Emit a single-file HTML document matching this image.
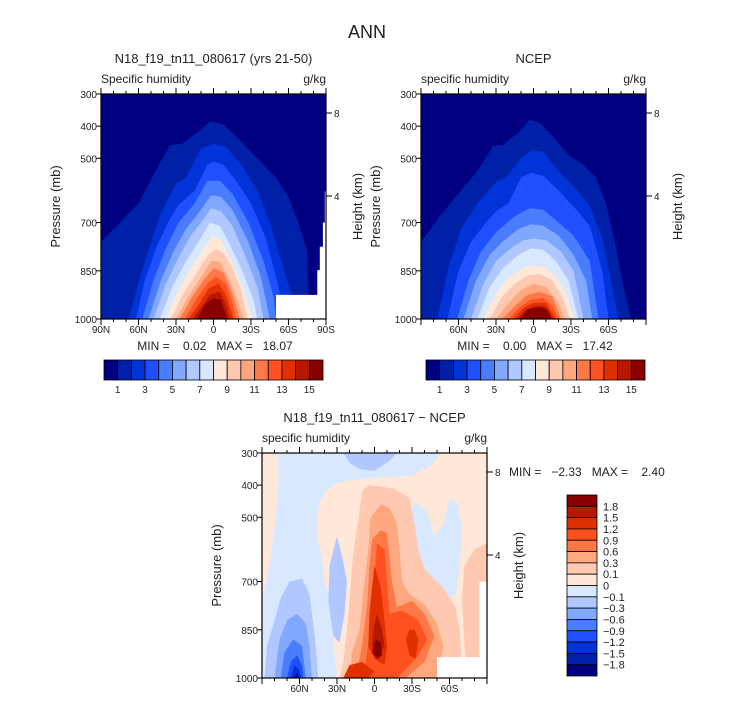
<!DOCTYPE html>
<html><head><meta charset="utf-8">
<style>
body{margin:0;background:#fff;}
svg{display:block;font-family:"Liberation Sans",sans-serif;}
text{fill:#222;white-space:pre;}
</style></head>
<body>
<svg id="fig" width="733" height="702" viewBox="0 0 733 702" xmlns="http://www.w3.org/2000/svg">
<text x="367" y="38" font-size="18" text-anchor="middle">ANN</text>
<g id="p1"></g>
<g id="p2"></g>
<g id="p3"></g>
<g id="cb1"></g>
<g id="cb2"></g>
<g id="cb3"></g>
</svg>
<script>
const palette = ["#000080","#0020a8","#0034d8","#1e50ff","#4a7cff","#80a8ff","#b0c8ff","#d8e8ff","#ffe8d8","#ffc8b0","#ffa880","#ff7848","#ff5020","#e03000","#b81800","#880000"];
const pressureTicks = [300,400,500,700,850,1000];
const heightTicks = [["8",113],["4",196]];
const latTicks1 = ["90N","60N","30N","0","30S","60S","90S"];
const latVals1 = [90,60,30,0,-30,-60,-90];
const latTicks2 = ["60N","30N","0","30S","60S"];
const latVals2 = [60,30,0,-30,-60];
const cbLabels = ["1","3","5","7","9","11","13","15"];
const diffLabels = ["1.8","1.5","1.2","0.9","0.6","0.3","0.1","0","\u22120.1","\u22120.3","\u22120.6","\u22120.9","\u22121.2","\u22121.5","\u22121.8"];

const modelLevels = [
[[90,760],[75,700],[60,640],[45,530],[35,460],[25,455],[10,410],[3,385],[-8,395],[-20,440],[-35,500],[-50,560],[-60,620],[-68,700],[-75,790],[-76,920],[-78,1000]],
[[68,1000],[58,860],[50,760],[42,670],[30,580],[22,560],[10,470],[0,455],[-10,465],[-22,520],[-35,600],[-45,700],[-55,830],[-62,920],[-66,1000]],
[[62,1000],[55,880],[45,770],[35,690],[28,645],[15,600],[5,520],[0,510],[-8,520],[-18,570],[-30,640],[-42,750],[-52,900],[-56,1000]],
[[57,1000],[48,880],[38,780],[28,700],[15,640],[5,570],[-5,570],[-15,610],[-28,700],[-40,820],[-48,930],[-50,1000]],
[[52,1000],[42,880],[32,790],[22,720],[10,660],[2,615],[-6,620],[-15,660],[-28,760],[-38,870],[-45,1000]],
[[48,1000],[38,890],[28,810],[18,740],[8,690],[2,655],[-6,665],[-15,710],[-25,800],[-35,900],[-40,1000]],
[[43,1000],[33,900],[22,820],[12,760],[3,700],[-5,710],[-12,760],[-22,840],[-32,940],[-35,1000]],
[[38,1000],[28,910],[18,840],[8,780],[1,742],[-6,755],[-12,800],[-20,870],[-28,960],[-31,1000]],
[[34,1000],[24,920],[14,860],[5,805],[-2,782],[-8,795],[-15,840],[-22,910],[-27,1000]],
[[30,1000],[20,930],[10,870],[2,820],[-5,822],[-12,870],[-20,950],[-24,1000]],
[[27,1000],[17,930],[8,880],[0,842],[-8,855],[-15,920],[-21,1000]],
[[23,1000],[14,940],[5,890],[-2,868],[-10,890],[-15,950],[-18,1000]],
[[20,1000],[11,950],[4,905],[-4,890],[-10,925],[-16,1000]],
[[17,1000],[9,960],[3,925],[-5,915],[-10,955],[-13,1000]],
[[13,1000],[7,955],[0,935],[-6,940],[-11,1000]]
];
const modelMissing = [[-50,1000],[-50,925],[-83,925],[-83,848],[-85,848],[-85,775],[-87.5,775],[-87.5,700],[-89,700],[-89,603],[-90,603],[-90,1000]];

const ncepLevels = [
[[90,760],[75,680],[60,610],[45,540],[32,460],[25,460],[12,420],[3,380],[-5,390],[-15,430],[-28,490],[-40,520],[-50,560],[-58,640],[-65,760],[-72,900],[-78,1000]],
[[77,1000],[68,840],[58,720],[45,640],[30,575],[22,560],[10,500],[2,475],[-8,480],[-20,540],[-35,600],[-45,650],[-55,750],[-62,880],[-68,1000]],
[[69,1000],[60,850],[50,760],[38,700],[30,665],[20,640],[10,560],[2,545],[-8,555],[-20,600],[-32,650],[-45,710],[-55,850],[-60,1000]],
[[61,1000],[52,880],[42,790],[30,730],[15,680],[3,655],[-8,660],[-20,700],[-32,740],[-45,820],[-52,1000]],
[[56,1000],[46,880],[35,800],[25,760],[12,720],[2,705],[-8,710],[-20,740],[-32,800],[-42,880],[-47,1000]],
[[50,1000],[40,890],[30,820],[18,780],[8,755],[0,750],[-10,755],[-22,790],[-32,850],[-40,1000]],
[[45,1000],[35,900],[24,840],[12,800],[2,780],[-8,785],[-18,820],[-28,880],[-36,1000]],
[[40,1000],[30,920],[20,870],[8,840],[0,833],[-10,840],[-18,870],[-26,920],[-33,1000]],
[[35,1000],[25,930],[15,890],[5,865],[-5,860],[-15,880],[-24,940],[-29,1000]],
[[30,1000],[20,950],[10,910],[0,890],[-10,900],[-20,950],[-25,1000]],
[[25,1000],[15,960],[5,925],[-5,915],[-15,930],[-22,1000]],
[[20,1000],[10,960],[2,940],[-8,935],[-15,960],[-20,1000]],
[[16,1000],[8,965],[0,950],[-10,950],[-18,1000]],
[[13,1000],[6,970],[-2,960],[-10,962],[-16,1000]],
[[10,1000],[5,970],[-5,962],[-12,975],[-14,1000]]
];

const diffColorIdx = [7, 6, 6, 6, 7, 5, 4, 3, 2, 0, 9, 9, 10, 11, 12, 13, 13, 13, 14, 15];
const diffShapes = [
[[77,300],[-53,300],[-45,340],[-30,370],[-10,375],[5,380],[20,385],[30,395],[40,420],[45,470],[46,560],[42,620],[40,700],[35,760],[33,900],[30,1000],[90,1000],[90,760],[84,650],[79,500],[77,400]],
[[25,300],[-18,300],[-10,330],[0,355],[12,350],[20,330]],
[[30,560],[26,620],[22,700],[24,800],[28,890],[33,870],[37,760],[36,650]],
[[88,1000],[86,900],[80,820],[75,750],[68,700],[58,690],[52,740],[50,800],[47,900],[45,1000]],
[[-32,450],[-28,500],[-30,600],[-40,700],[-55,760],[-65,740],[-68,650],[-70,520],[-66,450],[-60,440],[-55,520],[-48,560],[-42,480]],
[[80,1000],[76,880],[70,820],[62,800],[55,830],[52,900],[50,1000]],
[[75,1000],[72,920],[65,880],[58,900],[55,1000]],
[[70,1000],[67,950],[62,930],[58,960],[57,1000]],
[[67,1000],[64,960],[60,975],[59,1000]],
[[64,1000],[62,982],[60,1000]],
[[5,400],[-15,410],[-28,440],[-32,520],[-35,600],[-40,660],[-55,720],[-65,780],[-68,850],[-70,950],[-62,1000],[28,1000],[25,950],[22,850],[20,760],[18,650],[15,560],[12,480],[10,420]],
[[-90,580],[-80,600],[-72,650],[-70,750],[-72,900],[-75,1000],[-90,1000]],
[[-5,460],[-12,470],[-18,520],[-20,600],[-22,700],[-28,740],[-40,770],[-50,830],[-55,900],[-50,1000],[20,1000],[18,920],[12,850],[8,700],[5,600],[3,500]],
[[-5,540],[-10,550],[-12,620],[-14,700],[-18,780],[-30,760],[-40,800],[-48,870],[-40,950],[-25,1000],[15,1000],[10,900],[6,780],[4,650],[2,570]],
[[-2,580],[-8,600],[-10,700],[-12,800],[-22,790],[-35,820],[-42,880],[-35,930],[-28,960],[-18,1000],[10,1000],[6,930],[3,820],[0,700]],
[[0,650],[-5,720],[-8,820],[-10,900],[-8,960],[0,940],[5,900],[4,800],[2,720]],
[[-28,850],[-25,880],[-28,930],[-33,940],[-35,880],[-32,850]],
[[25,1000],[20,960],[10,950],[0,980],[5,1000]],
[[-2,800],[-6,850],[-8,900],[-4,930],[2,900],[1,850]],
[[-1,880],[-5,890],[-6,930],[-2,940],[2,920]]
];
const diffMissing = [[-50,1000],[-50,935],[-84,935],[-84,700],[-90,700],[-90,1000]];

const NS = "http://www.w3.org/2000/svg";
function mk(tag, attrs, parent){const e=document.createElementNS(NS,tag);for(const k in attrs)e.setAttribute(k,attrs[k]);parent.appendChild(e);return e;}

function panel(g, x0, y0, opts){
  const W=225,H=225;
  const sx = lat => x0 + (90-lat)*W/180;
  const sy = p => y0 + (p-300)*H/700;
  const clip = mk('clipPath',{id:'clip'+g.id},g);
  mk('rect',{x:x0,y:y0,width:W,height:H},clip);
  const plot = mk('g',{'clip-path':'url(#clip'+g.id+')'},g);
  
  
  const bg = mk('rect',{x:x0,y:y0,width:W,height:H,fill:palette[opts.bgIdx]},plot);
  
  
  const poly = (pts, fill, close)=>{
    let d = pts.map((q,i)=>(i?'L':'M')+sx(q[0]).toFixed(1)+','+sy(q[1]).toFixed(1)).join(' ');
    if(close) d += ' L'+sx(pts[pts.length-1][0]).toFixed(1)+','+(y0+H)+' L'+sx(pts[0][0]).toFixed(1)+','+(y0+H);
    return mk('path',{d:d+' Z',fill:fill},plot);
  };
  opts.shapes.forEach((pts,i)=>{
    const el = poly(pts, palette[opts.colorIdx[i]], opts.closeBottom);
    
    
  });
  if(opts.missing){
    const m = poly(opts.missing,'#fff',false);
    
    
  }
  const fr = mk('rect',{x:x0,y:y0,width:W,height:H,fill:'none',stroke:'#000','stroke-width':1.2},g);
  
  
  for(let lat=-90;lat<=90;lat+=10){
    const major = lat%30===0; const x=sx(lat);
    mk('line',{x1:x,y1:y0,x2:x,y2:y0-(major?6:3),stroke:'#000'},g);
    mk('line',{x1:x,y1:y0+H,x2:x,y2:y0+H+(major?6:3),stroke:'#000'},g);
  }
  pressureTicks.forEach(p=>{
    const y=sy(p);
    mk('line',{x1:x0,y1:y,x2:x0-5,y2:y,stroke:'#000'},g);
    const t = mk('text',{x:x0-4,y:y+4,'font-size':10,'text-anchor':'end'},g);
    t.textContent=p;
    
    
  });
  heightTicks.forEach(h=>{
    const y=y0+(h[1]-94);
    mk('line',{x1:x0+W,y1:y,x2:x0+W+6,y2:y,stroke:'#000'},g);
    const t = mk('text',{x:x0+W+8,y:y+4,'font-size':10},g);
    t.textContent=h[0];
    
    
  });
  opts.latLabels.forEach((l,i)=>{
    const t = mk('text',{x:sx(opts.latVals[i]),y:y0+H+14,'font-size':10,'text-anchor':'middle'},g);
    t.textContent=l;
    
    
  });
  const ttl = mk('text',{x:x0+W/2,y:y0-31,'font-size':13,'text-anchor':'middle'},g);
  ttl.textContent=opts.title;
  
  
  const lt = mk('text',{x:x0,y:y0-11,'font-size':12},g);
  lt.textContent=opts.left;
  
  
  const rt = mk('text',{x:x0+W,y:y0-11,'font-size':12,'text-anchor':'end'},g);
  rt.textContent='g/kg';
  
  
  const yl = mk('text',{transform:`translate(${x0-41},${y0+H/2}) rotate(-90)`,'font-size':13,'text-anchor':'middle'},g);
  yl.textContent='Pressure (mb)';
  
  
  const yr = mk('text',{transform:`translate(${x0+W+36},${y0+H/2}) rotate(-90)`,'font-size':13,'text-anchor':'middle'},g);
  yr.textContent='Height (km)';
  
  
  if(opts.minmax){
    const mm = mk('text',{x:opts.minmax[0],y:opts.minmax[1],'font-size':12,'text-anchor':opts.minmax[3]||'middle'},g);
    mm.textContent=opts.minmax[2];
    
    
  }
}

const idx15 = [1,2,3,4,5,6,7,8,9,10,11,12,13,14,15];
panel(document.getElementById('p1'),101,94,{bgIdx:0,shapes:modelLevels,colorIdx:idx15,closeBottom:true,missing:modelMissing,
  latLabels:latTicks1,latVals:latVals1,title:'N18_f19_tn11_080617 (yrs 21-50)',left:'Specific humidity',minmax:[215,350,'MIN =    0.02   MAX =   18.07']});
panel(document.getElementById('p2'),421,94,{bgIdx:0,shapes:ncepLevels,colorIdx:idx15,closeBottom:true,
  latLabels:latTicks2,latVals:latVals2,title:'NCEP',left:'specific humidity',minmax:[535,350,'MIN =    0.00   MAX =   17.42']});
panel(document.getElementById('p3'),262,453,{bgIdx:8,shapes:diffShapes,colorIdx:diffColorIdx,closeBottom:false,missing:diffMissing,
  latLabels:latTicks2,latVals:latVals2,title:'N18_f19_tn11_080617 \u2212 NCEP',left:'specific humidity',minmax:[509,476,'MIN =   \u22122.33   MAX =    2.40','start']});
function hbar(g,x0,y0){
  const w=(323-104)/16;
  palette.forEach((c,i)=>{
    const r=mk('rect',{x:x0+i*w,y:y0,width:w,height:20,fill:c,stroke:'#000','stroke-width':0.8},g);
    
    
  });
  cbLabels.forEach((l,i)=>{
    const t=mk('text',{x:x0+(1+2*i)*w,y:y0+33,'font-size':10,'text-anchor':'middle'},g);
    t.textContent=l;
    
    
  });
}
hbar(document.getElementById('cb1'),104,360);
hbar(document.getElementById('cb2'),426,360);
(function(){
  const g=document.getElementById('cb3');
  const h=(676-495)/16;
  for(let i=0;i<16;i++){
    const r=mk('rect',{x:567,y:495+i*h,width:30,height:h,fill:palette[15-i],stroke:'#000','stroke-width':0.8},g);
    
    
  }
  diffLabels.forEach((l,i)=>{
    const t=mk('text',{x:603,y:495+(i+1)*h+4,'font-size':11},g);
    t.textContent=l;
    
    
  });
})();
</script>
</body></html>
